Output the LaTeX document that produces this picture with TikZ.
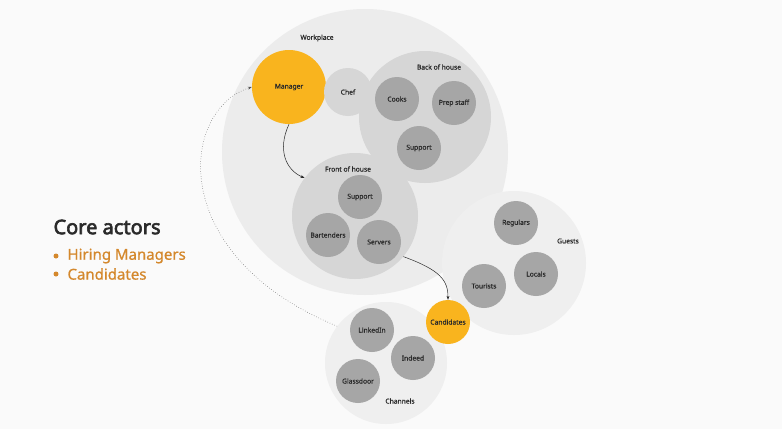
\documentclass[tikz,border=0pt]{standalone}
\usepackage{fontspec}
\setmainfont{Noto Sans}[BoldFont={Noto Sans}, BoldFeatures={FakeBold=3}]
\newfontfamily\midfont{Noto Sans}[FakeBold=0.8]
\usetikzlibrary{arrows.meta}

\definecolor{pagebg}{HTML}{FAFAFA}
\definecolor{outerfill}{HTML}{ECECEC}
\definecolor{lightfill}{HTML}{EFEFEF}
\definecolor{groupfill}{HTML}{D6D6D6}
\definecolor{rolefill}{HTML}{A6A6A6}
\definecolor{keyfill}{HTML}{F9B41E}
\definecolor{inktext}{HTML}{2A2A2A}
\definecolor{accent}{HTML}{D4882C}

\begin{document}
\begin{tikzpicture}[
    x=1pt, y=-1pt,
    outer/.style={circle, inner sep=0pt, fill=outerfill},
    faint/.style={circle, inner sep=0pt, fill=lightfill},
    group/.style={circle, inner sep=0pt, fill=groupfill},
    role/.style={circle, inner sep=0pt, minimum size=44pt, fill=rolefill, text=inktext, font=\midfont\fontsize{6.7}{8}\selectfont},
    key/.style={role, fill=keyfill},
    grouplbl/.style={text=inktext, font=\midfont\fontsize{6.7}{8}\selectfont},
    bullet/.style={circle, fill=accent, inner sep=0pt, minimum size=5pt},
    item/.style={anchor=west, text=accent, font=\midfont\fontsize{15}{18}\selectfont},
    link/.style={-{Stealth[length=4pt, width=3pt]}, draw=inktext, line width=0.5pt},
    dotlink/.style={link, dotted, draw=inktext!80}
]

\fill[pagebg] (0,0) rectangle (782,429);
\useasboundingbox (0,0) rectangle (782,429);

% big groups
\node[outer, minimum size=286pt] (work) at (365,152) {};
\node[faint, minimum size=144pt] (guests) at (514,263) {};
\node[faint, minimum size=122pt] (chan) at (386,363) {};

% workplace
\node[grouplbl] (worklbl) at (317,38) {Workplace};
\node[group, minimum size=132pt] (boh) at (425,117) {};
\node[grouplbl] (bohlbl) at (439,67) {Back of house};
\node[group, minimum size=126pt] (foh) at (355,216) {};
\node[grouplbl] (fohlbl) at (348,169) {Front of house};
\node[key, minimum size=74pt] (mgr) at (289,87) {Manager};
\node[role, fill=groupfill, minimum size=48pt] (chef) at (348,92) {Chef};

\node[role] (cooks) at (397,99) {Cooks};
\node[role] (prep) at (454,103) {Prep staff};
\node[role] (bsup) at (419,148) {Support};

\node[role] (fsup) at (360,197) {Support};
\node[role] (bart) at (328,235) {Bartenders};
\node[role] (serv) at (379,242) {Servers};

% guests
\node[grouplbl] (guestlbl) at (568,241) {Guests};
\node[role] (reg) at (516,223) {Regulars};
\node[role] (loc) at (536,274) {Locals};
\node[role] (tour) at (484,286) {Tourists};

% channels
\node[grouplbl] (chanlbl) at (400,401) {Channels};
\node[role] (lnk) at (372,330) {LinkedIn};
\node[role] (ind) at (413,358) {Indeed};
\node[role] (glass) at (358,381) {Glassdoor};

\node[key] (cand) at (448,322) {Candidates};

% connectors
\draw[link] (mgr.south) .. controls (277,150) and (286,170) .. (foh.143);
\draw[link] (foh.-40) .. controls (440,270) and (448,280) .. (cand.north);
\draw[dotlink] (chan.143) .. controls (165,255) and (180,110) .. (mgr.west);

% legend
\node[anchor=west, text=inktext, font=\bfseries\fontsize{20}{24}\selectfont] (title) at (50,227) {Core actors};
\node[bullet] (dot1) at (56,256) {};
\node[item] (hire) at (64,256) {Hiring Managers};
\node[bullet] (dot2) at (56,274) {};
\node[item] (cands) at (64,274) {Candidates};

\end{tikzpicture}
\end{document}
